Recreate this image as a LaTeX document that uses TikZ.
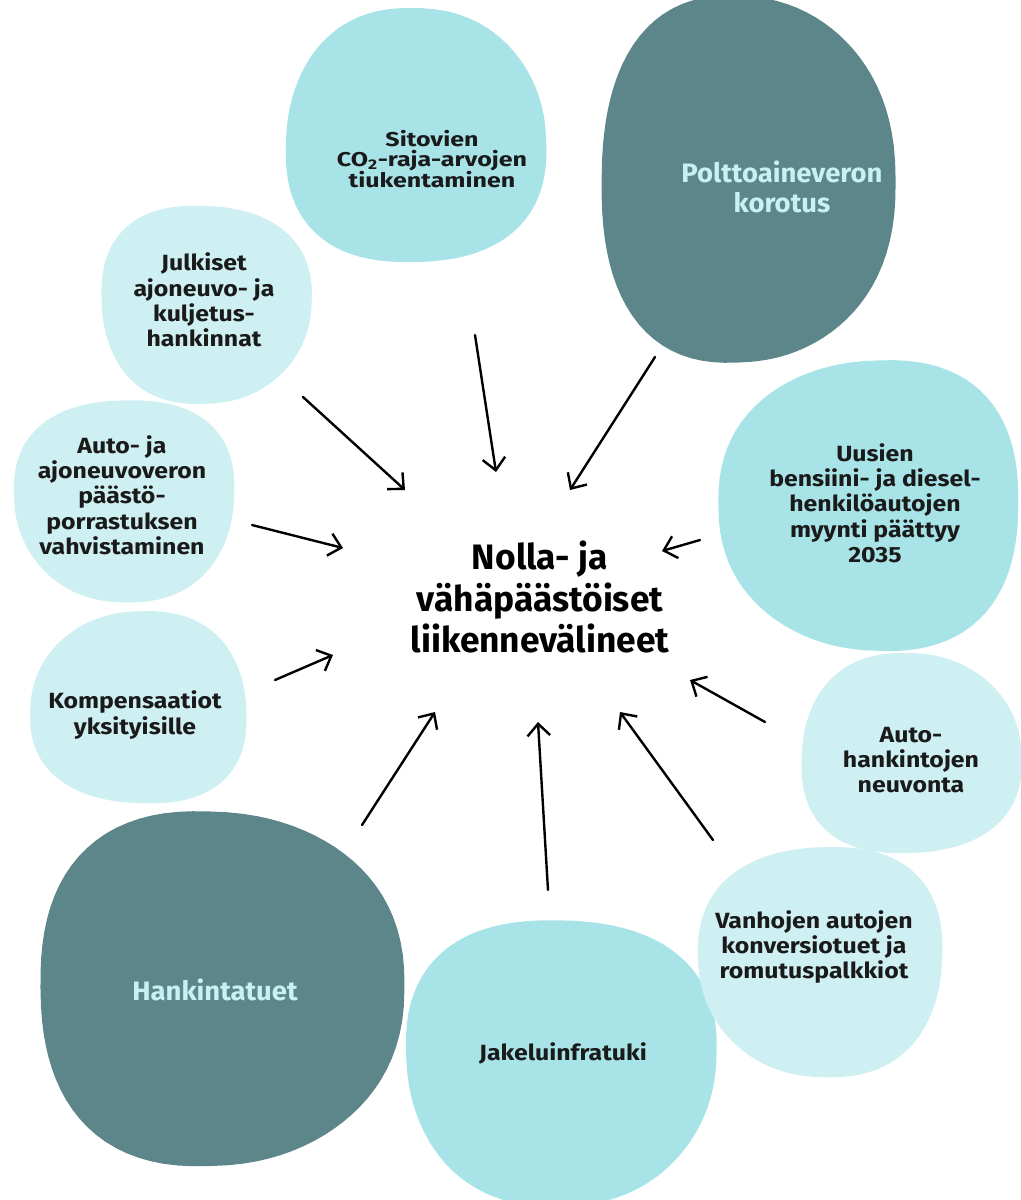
\documentclass[tikz,border=0pt]{standalone}
\usepackage{fontspec}
\setmainfont{Fira Sans}
\usetikzlibrary{arrows.meta}
\definecolor{darkteal}{HTML}{5C8689}
\definecolor{midcyan}{HTML}{A8E4E7}
\definecolor{lightcyan}{HTML}{CFF0F2}
\definecolor{paletext}{HTML}{C9F1F4}
\definecolor{inktext}{HTML}{1A1A1A}
% rounded blob: style, cx, cy, rx, ry, wobble phase
\newcommand\blobfill[6]{%
  \fill[#1] plot[domain=0:356,samples=90,variable=\t]
   ({#2+#4*(1+0.025*sin(3*\t+#6))*sign(cos(\t))*(abs(cos(\t))+0.00001)^0.87},
    {#3+#5*(1+0.025*sin(3*\t+#6))*sign(sin(\t))*(abs(sin(\t))+0.00001)^0.87}) -- cycle;}
\begin{document}
\begin{tikzpicture}[x=0.75pt,y=-0.75pt,
  blobdark/.style={fill=darkteal},
  blobmid/.style={fill=midcyan},
  bloblight/.style={fill=lightcyan},
  lbl/.style={align=center,text=inktext,font=\bfseries\fontsize{16.5}{19}\selectfont\addfontfeatures{FakeStretch=1.13}},
  lblwide/.style={align=center,text=inktext,font=\bfseries\fontsize{15}{15.5}\selectfont\addfontfeatures{FakeStretch=1.25}},
  lbldark/.style={align=center,text=paletext,font=\bfseries\fontsize{20}{22.5}\selectfont\addfontfeatures{FakeStretch=1.03}},
  centrelbl/.style={align=center,text=black,font=\bfseries\fontsize{26.5}{31}\selectfont},
  arr/.style={line width=1.8pt,-{Straight Barb[length=9pt,width=17pt,line width=1.8pt]},line cap=round}]
\useasboundingbox (0,0) rectangle (1021,1200);
\fill[white] (0,0) rectangle (1021,1200);

% blobs
\blobfill{blobmid}{415}{138}{130}{127}{20}
\blobfill{blobdark}{745}{180}{147}{183}{80}
\blobfill{bloblight}{205}{303}{105}{99}{140}
\blobfill{bloblight}{125}{499}{110}{101}{200}
\blobfill{blobmid}{872}{505}{150}{145}{260}
\blobfill{bloblight}{140}{709}{108}{96}{320}
\blobfill{bloblight}{910}{755}{110}{100}{40}
\blobfill{blobdark}{218}{988}{182}{177}{100}
\blobfill{blobmid}{560}{1060}{155}{143}{160}
\blobfill{bloblight}{822}{960}{122}{115}{220}

% labels
\node[centrelbl] (goal) at (540,597) {Nolla- ja\\vähäpäästöiset\\liikennevälineet};
\node[lblwide] (sitovien) at (432,159) {Sitovien\\CO\textsubscript{2}-raja-arvojen\\tiukentaminen};
\node[lbldark] (poltto) at (782,187) {Polttoaineveron\\korotus};
\node[lbl] (julkiset) at (204,300) {Julkiset\\ajoneuvo- ja\\kuljetus-\\hankinnat};
\node[lbl] (autovero) at (122,495) {Auto- ja\\ajoneuvoveron\\päästö-\\porrastuksen\\vahvistaminen};
\node[lbl] (uusien) at (875,503) {Uusien\\bensiini- ja diesel-\\henkilöautojen\\myynti päättyy\\2035};
\node[lbl] (kompens) at (135,715) {Kompensaatiot\\yksityisille};
\node[lbl] (neuvonta) at (911,760) {Auto-\\hankintojen\\neuvonta};
\node[lbldark] (hankinta) at (215,990) {Hankintatuet};
\node[lbl] (jakelu) at (563,1053) {Jakeluinfratuki};
\node[lbl] (vanhojen) at (814,947) {Vanhojen autojen\\konversiotuet ja\\romutuspalkkiot};

% arrow endpoints
\coordinate (a1s) at (303,397); \coordinate (a1e) at (405,490);
\coordinate (a2s) at (475,335); \coordinate (a2e) at (496,472);
\coordinate (a3s) at (655,357); \coordinate (a3e) at (570,490);
\coordinate (a4s) at (252,525); \coordinate (a4e) at (343,548);
\coordinate (a5s) at (700,540); \coordinate (a5e) at (662,551);
\coordinate (a6s) at (275,680); \coordinate (a6e) at (333,655);
\coordinate (a7s) at (765,722); \coordinate (a7e) at (690,680);
\coordinate (a8s) at (362,825); \coordinate (a8e) at (435,712);
\coordinate (a9s) at (548,890); \coordinate (a9e) at (538,722);
\coordinate (a10s) at (713,840); \coordinate (a10e) at (620,712);

\draw[arr] (a1s) -- (a1e);
\draw[arr] (a2s) -- (a2e);
\draw[arr] (a3s) -- (a3e);
\draw[arr] (a4s) -- (a4e);
\draw[arr] (a5s) -- (a5e);
\draw[arr] (a6s) -- (a6e);
\draw[arr] (a7s) -- (a7e);
\draw[arr] (a8s) -- (a8e);
\draw[arr] (a9s) -- (a9e);
\draw[arr] (a10s) -- (a10e);
\end{tikzpicture}
\end{document}
